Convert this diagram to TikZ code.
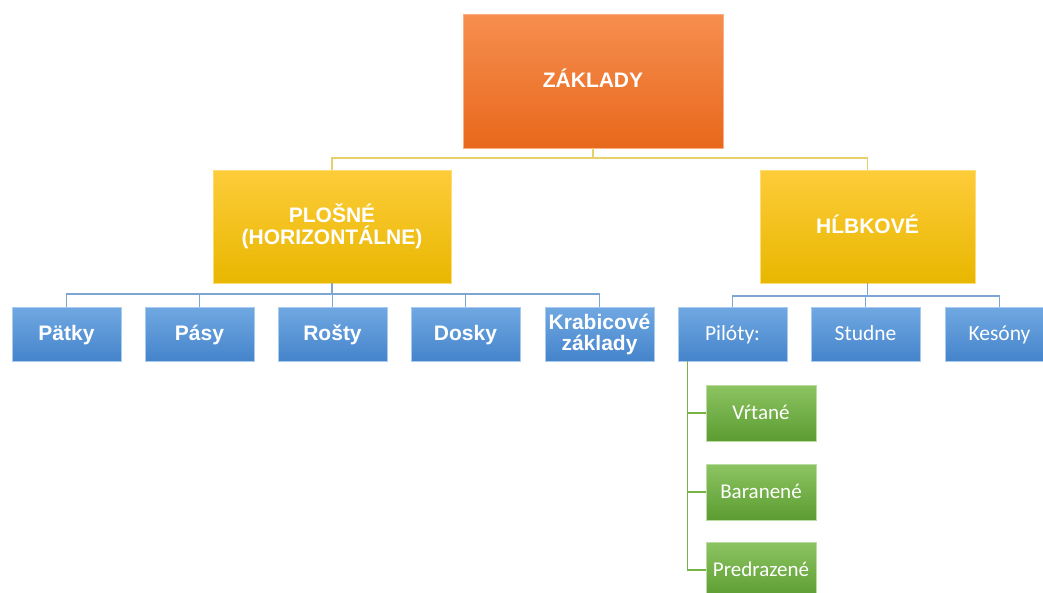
\documentclass[tikz,border=0pt]{standalone}
\usepackage{fontspec}
\setmainfont{Liberation Sans}
\newfontfamily\calib{Carlito}
\usetikzlibrary{calc}
\definecolor{orgT}{HTML}{F68E4F}
\definecolor{orgB}{HTML}{E8681C}
\definecolor{ylwT}{HTML}{FDCC3A}
\definecolor{ylwB}{HTML}{E8B700}
\definecolor{bluT}{HTML}{70A8E2}
\definecolor{bluB}{HTML}{4584CB}
\definecolor{grnT}{HTML}{8CC462}
\definecolor{grnB}{HTML}{5C9C31}
\definecolor{lnY}{HTML}{E6D06A}
\definecolor{lnB}{HTML}{7EA6D3}
\definecolor{lnG}{HTML}{77B345}
\tikzset{
  box/.style={rectangle, inner sep=0pt, text=white, align=center},
  oneline/.style={text height=15pt, text depth=2pt},
  orangebox/.style={box, oneline, top color=orgT, bottom color=orgB, draw=orgT!70!white, line width=0.8pt,
    minimum width=260pt, minimum height=134pt, font=\bfseries\fontsize{21}{24}\selectfont},
  yellowbox/.style={box, top color=ylwT, bottom color=ylwB, draw=ylwT!70!white, line width=0.8pt,
    minimum width=238pt, minimum height=113pt, font=\bfseries\fontsize{21}{22}\selectfont},
  bluebox/.style={box, top color=bluT, bottom color=bluB, draw=bluT!60!white, line width=0.8pt,
    minimum width=109pt, minimum height=54pt},
  boldlbl/.style={oneline, font=\bfseries\fontsize{21}{22}\selectfont},
  plainlbl/.style={oneline, font=\calib\fontsize{21.5}{23}\selectfont},
  greenbox/.style={box, oneline, top color=grnT, bottom color=grnB, draw=grnT!60!white, line width=0.8pt,
    minimum width=110pt, minimum height=56pt, font=\calib\fontsize{21}{23}\selectfont},
  linkY/.style={draw=lnY, line width=1.2pt},
  linkB/.style={draw=lnB, line width=1.2pt},
  linkG/.style={draw=lnG, line width=1.2pt},
}
\begin{document}
\begin{tikzpicture}[x=1pt, y=-1pt]
\useasboundingbox (0,0) rectangle (1043,592);

% top level
\node[orangebox] (zak) at (593,81) {ZÁKLADY};

% second level
\node[yellowbox] (plo) at (332,226.5) {PLOŠNÉ\\(HORIZONTÁLNE)};
\node[yellowbox, oneline, minimum width=215pt] (hlb) at (867.5,226.5) {HĹBKOVÉ};

% shallow foundations
\node[bluebox, boldlbl] (pat) at (66.5,334) {Pätky};
\node[bluebox, boldlbl] (pas) at (199.5,334) {Pásy};
\node[bluebox, boldlbl] (ros) at (332.5,334) {Rošty};
\node[bluebox, boldlbl] (dos) at (465.5,334) {Dosky};
\node[bluebox, font=\bfseries\fontsize{21}{21}\selectfont] (kra) at (599.5,334) {Krabicové\\základy};

% deep foundations
\node[bluebox, plainlbl] (pil) at (732.5,334) {Pilóty:};
\node[bluebox, plainlbl] (stu) at (865.5,334) {Studne};
\node[bluebox, plainlbl] (kes) at (999.5,334) {Kesóny};

% pile types
\node[greenbox] (vrt) at (761,413) {Vŕtané};
\node[greenbox] (bar) at (761,492) {Baranené};
\node[greenbox] (pre) at (761,570) {Predrazené};

% connectors: top level
\coordinate (j0) at (593,158);
\path[linkY] (zak.south) -- (j0) -| (plo.north);
\path[linkY] (j0) -| (hlb.north);

% connectors: shallow
\coordinate (j1) at (332,294);
\path[linkB] (plo.south) -- (j1) -| (pat.north);
\path[linkB] (j1) -| (pas.north);
\path[linkB] (j1) -| (ros.north);
\path[linkB] (j1) -| (dos.north);
\path[linkB] (j1) -| (kra.north);

% connectors: deep
\coordinate (j2) at (867.5,296);
\path[linkB] (hlb.south) -- (j2) -| (pil.north);
\path[linkB] (j2) -| (stu.north);
\path[linkB] (j2) -| (kes.north);

% connectors: pile types
\coordinate (p0) at ($(pil.south west)+(10,0)$);
\path[linkG] (p0) |- (vrt.west);
\path[linkG] (p0) |- (bar.west);
\path[linkG] (p0) |- (pre.west);
\end{tikzpicture}
\end{document}
